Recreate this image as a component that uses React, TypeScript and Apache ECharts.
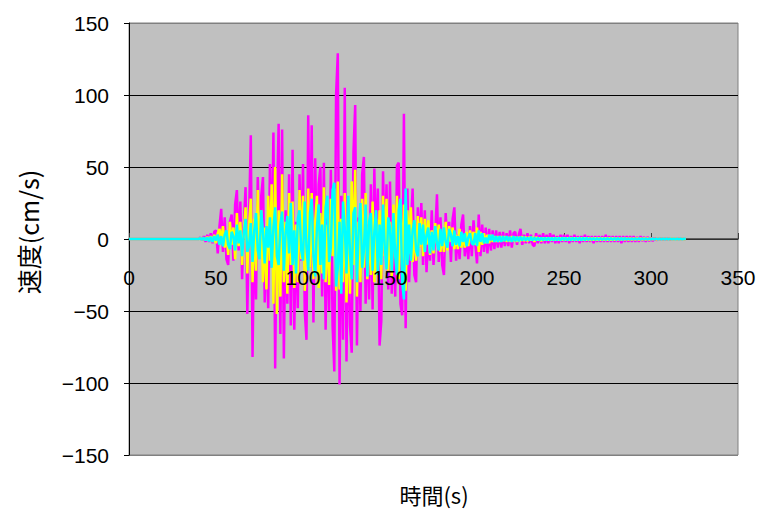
import React, { useEffect, useRef } from "react";
import * as echarts from "echarts";

// time (s) of the first sample in each velocity array, and the sampling step (s)
const sampleStart = 40;
const sampleStep = 1;
// quiet record before the first arrival: [time, velocity]
const quietLead: [number, number][] = [[0, 0], [20, 0]];

const xTicks = [0, 50, 100, 150, 200, 250, 300, 350];
const yTicks = [-150, -100, -50, 0, 50, 100, 150];

// velocity (cm/s), magenta trace, t = 40 .. 320 s
const magenta = [
  0, 1, -1, 2, -2, 3, -2, 4, -3, 5,
  6, -10, 9, 21, -9, 15, -14, -18, 12, 17,
  -15, 24, 34, -8, 26, -28, 10, 36, -52, 15,
  72, -82, 12, -42, 43, -10, 30, 43, -44, 8,
  -48, 52, -20, 74, -90, 22, 80, -66, 76, -83,
  20, -45, 45, -60, 62, -63, 12, -48, 45, -15,
  52, -50, -70, 86, -20, 79, -58, 56, -16, 38,
  50, -40, 53, -63, 15, -50, 48, -60, -92, 100,
  129, -101, 30, -70, 105, -85, 20, -60, -79, 60,
  93, -74, 15, -50, 45, 57, -45, 10, -42, 38,
  -49, 49, -12, 35, -74, -57, 47, -10, 38, -35,
  40, -38, 10, -40, 51, 53, -45, -53, 87, -62,
  35, -30, 8, 35, -25, -30, 22, -6, 25, -18,
  20, -23, 5, -15, 20, -18, 4, 31, -16, 15,
  -18, -25, 18, -4, 12, -16, 14, 22, -15, 3,
  -14, 10, 17, -12, 2, -14, 9, -12, 13, -3,
  -17, 17, -12, 10, -9, 8, -10, 7, -8, 6,
  -7, 6, -6, 5, -6, 5, -5, 4, -5, 6,
  -6, 4, 5, -4, 3, 7, -4, 3, -3, 4,
  -3, 3, -4, -5, 4, -3, 3, -3, 4, -3,
  3, -3, 4, -2, 3, -3, 2, -3, 3, -2,
  3, -2, 3, -3, 2, -2, 3, -2, 2, -3,
  2, -2, 3, -2, 2, -2, 2, -3, 2, -2,
  2, -2, 2, -2, 3, -2, 2, -2, 2, -2,
  2, -2, 2, -3, 2, -2, 2, -2, 2, -2,
  2, -2, 1.5, -2, 2, -1.5, 1.5, -2, 1.5, -1.5,
  1, -1.5, 1, -1, 0.5, -0.5, 0.5, -0.5, 0.5, -0.5,
  0.5, -0.5, 0.3, -0.3, 0.3, -0.3, 0.2, -0.2, 0.2, -0.1, 0,
];

// velocity (cm/s), yellow trace, t = 40 .. 320 s
const yellow = [
  0, 0.5, -0.5, 1, -1, 1.5, -1, 2, -2, 3,
  -3, 4, 7, -2, 9, -6, 3, -11, 12, -4,
  8, -14, 18, -5, 12, -18, 6, 22, -24, 10,
  28, -30, 14, -22, 34, -12, 20, -30, 8, -35,
  30, -15, 38, -45, 50, -52, 20, -40, 45, -30,
  12, -38, 32, -18, 26, -34, 10, -30, 34, -14,
  30, -36, -12, 35, -20, 32, -28, 12, 30, -34,
  18, -24, 36, -30, 10, -32, 28, -12, 35, -36,
  40, -35, 14, -30, 32, -44, 20, -38, 40, -18,
  48, -40, 12, -30, 28, -20, 32, -28, 10, -25,
  26, -30, 14, -24, 20, -28, 30, -12, 28, -22,
  12, -26, 24, -8, 30, -28, 22, -20, 24, -36,
  20, -10, 22, -16, 8, -15, 16, -6, 15, -12,
  14, -4, 13, -11, 6, -10, 11, -3, 10, -9,
  4, -9, 12, -8, 9, -2, 8, -7, 3, -7,
  7, -6, 2, -6, 5, -5, 6, -1, 5, -4,
  8, -9, 5, -4, 4, -3, 3, -3, 3, -2,
  2, -2, 2, -2, 2, -1.5, 2, -2, 1.5, -2,
  2, -1.5, 1.5, -2, 1.5, -1.5, 2, -1.5, 1.5, -1.5,
  1.5, -1, 1.5, -2, 1.5, -1, 1, -1.5, 1, -1,
  1, -1, 1, -1, 1, -1, 1, -1, 1, -1,
  1, -1, 1, -1, 1, -1, 1, -1, 1, -1,
  1, -1, 1, -1, 1, -1, 0.8, -0.8, 0.8, -0.8,
  0.8, -0.8, 0.8, -0.8, 0.8, -0.8, 0.8, -0.8, 0.8, -0.8,
  0.6, -0.6, 0.6, -0.6, 0.6, -0.6, 0.6, -0.6, 0.6, -0.6,
  0.5, -0.5, 0.5, -0.5, 0.5, -0.5, 0.5, -0.5, 0.5, -0.5,
  0.4, -0.4, 0.4, -0.4, 0.3, -0.3, 0.3, -0.3, 0.3, -0.3,
  0.2, -0.2, 0.2, -0.2, 0.2, -0.2, 0.1, -0.1, 0.1, -0.1, 0,
];

// velocity (cm/s), cyan trace, t = 40 .. 320 s
const cyan = [
  0, 0.5, -0.5, 1, -1, 1, -1.5, 1.5, -2, 2,
  -1, 3, -4, 2, -5, 3, 6, -4, -7, 5,
  2, -8, 10, -3, 6, -12, 4, 14, -9, -5,
  11, -16, 6, 18, -8, -14, 20, 5, -17, 9,
  -6, 15, -20, 8, 22, -12, -18, 10, 19, -22,
  4, 16, -10, 25, -18, 6, -24, 14, 20, -8,
  -15, 26, -5, -22, 18, 28, -12, -26, 8, 24,
  -18, 10, -28, 22, 30, -16, -6, 34, 39, -33,
  -20, 12, -38, 26, 8, -24, 30, -10, -28, 18,
  22, -30, 6, 25, -20, -8, 24, -26, 12, 18,
  -22, 5, 20, -25, 10, -18, 24, -6, -21, 15,
  8, -22, 18, -12, -25, 20, 28, -30, -42, 35,
  -18, 10, -15, 6, 13, -8, -12, 11, -4, 10,
  -9, 3, 8, -10, 5, -8, 9, -3, -8, 7,
  -5, 8, -2, -6, 7, 3, -5, 6, -4, 2,
  -5, 5, -2, 4, -5, 1, 4, -3, -4, 4,
  -5, 6, -2, 4, -3, 1, -3, 3, -1, 3,
  -2, 2, -2, 2, -2, 2, -1.5, 2, -1.5, 1.5,
  -2, 2, -1.5, 1.5, -1.5, 1.5, -1, 1.5, -1, 1,
  -1, 1.5, -1, 1, -1, 1, -1, 1, -1, 1,
  -1, 1, -1, 1, -1, 1, -1, 1, -1, 1,
  -0.8, 0.8, -0.8, 0.8, -0.8, 0.8, -0.8, 0.8, -0.8, 0.8,
  -0.8, 0.8, -0.8, 0.8, -0.6, 0.6, -0.6, 0.6, -0.6, 0.6,
  -0.6, 0.6, -0.6, 0.6, -0.6, 0.6, -0.5, 0.5, -0.5, 0.5,
  -0.5, 0.5, -0.5, 0.5, -0.5, 0.5, -0.4, 0.4, -0.4, 0.4,
  -0.4, 0.4, -0.4, 0.4, -0.3, 0.3, -0.3, 0.3, -0.3, 0.3,
  -0.3, 0.3, -0.3, 0.3, -0.2, 0.2, -0.2, 0.2, -0.2, 0.2,
  -0.2, 0.2, -0.1, 0.1, -0.1, 0.1, -0.1, 0.1, -0.1, 0.1, 0,
];

const toPoints = (vals: number[]): [number, number][] => [
  ...quietLead,
  ...vals.map((v, i) => [sampleStart + i * sampleStep, v] as [number, number]),
];

const labelFont = "'Liberation Sans', 'Noto Sans CJK JP', sans-serif";
const titleFont = "'Noto Sans CJK JP', 'Liberation Sans', sans-serif";

const GRID_TOP = 23;
const GRID_BOTTOM = 55;
const CHART_H = 510;

export default function App() {
  const ref = useRef<HTMLDivElement>(null);
  useEffect(() => {
    if (!ref.current) return;
    const chart = echarts.init(ref.current, undefined, { renderer: "svg" });
    const mkSeries = (name: string, vals: number[], color: string) => ({
      name,
      type: "line",
      xAxisIndex: 0,
      yAxisIndex: 0,
      data: toPoints(vals),
      showSymbol: false,
      symbol: "none",
      lineStyle: { color, width: 2.5 },
      itemStyle: { color },
      z: 3,
    });
    // the x axis sits on velocity 0, the middle of the symmetric y range
    const gridH = CHART_H - GRID_TOP - GRID_BOTTOM;
    const zeroOffset = -gridH / 2;
    const xBase = {
      type: "value",
      position: "bottom",
      offset: zeroOffset,
      min: xTicks[0],
      max: xTicks[xTicks.length - 1],
      interval: xTicks[1] - xTicks[0],
      splitLine: { show: false },
    };
    chart.setOption({
      animation: false,
      backgroundColor: "#ffffff",
      grid: {
        left: 129,
        right: 23,
        top: GRID_TOP,
        bottom: GRID_BOTTOM,
        show: true,
        backgroundColor: "#C0C0C0",
        borderColor: "#808080",
        borderWidth: 1,
      },
      xAxis: [
        {
          ...xBase,
          axisLine: { show: true, onZero: false, lineStyle: { color: "#404040", width: 1.5 } },
          axisTick: { show: true, inside: true, length: 6, lineStyle: { color: "#404040" } },
          axisLabel: { show: false },
          z: 1,
        },
        {
          ...xBase,
          axisLine: { show: false, onZero: false },
          axisTick: { show: false },
          axisLabel: {
            margin: 28,
            fontSize: 21,
            color: "#000",
            fontFamily: labelFont,
            showMinLabel: true,
            showMaxLabel: true,
          },
          z: 10,
        },
      ],
      yAxis: {
        type: "value",
        min: yTicks[0],
        max: yTicks[yTicks.length - 1],
        interval: yTicks[1] - yTicks[0],
        axisLine: { show: true, onZero: false, lineStyle: { color: "#000", width: 1 } },
        axisTick: { show: true, inside: false, length: 5, lineStyle: { color: "#000" } },
        axisLabel: {
          margin: 20,
          fontSize: 21,
          color: "#000",
          fontFamily: labelFont,
          formatter: (v: number) => String(v).replace("-", "\u2212"),
        },
        splitLine: {
          show: true,
          lineStyle: {
            color: ["#808080", "#000", "#000", "#000", "#000", "#000", "#808080"],
            width: 1,
          },
        },
      },
      series: [
        mkSeries("magenta", magenta, "#FF00FF"),
        mkSeries("yellow", yellow, "#FFFF00"),
        mkSeries("cyan", cyan, "#00FFFF"),
      ],
      graphic: [
        {
          type: "text",
          x: 28,
          y: 232,
          rotation: Math.PI / 2,
          style: {
            text: "速度(cm/s)",
            fontSize: 25,
            fontFamily: titleFont,
            fill: "#000",
            align: "center",
            verticalAlign: "middle",
          },
        },
        {
          type: "text",
          x: 434,
          y: 494,
          style: {
            text: "時間(s)",
            fontSize: 22,
            fontFamily: titleFont,
            fill: "#000",
            align: "center",
            verticalAlign: "middle",
          },
        },
      ],
    });
    return () => chart.dispose();
  }, []);
  return <div ref={ref} style={{ width: 761, height: 510, position: "absolute", left: 0, top: 0 }} />;
}
